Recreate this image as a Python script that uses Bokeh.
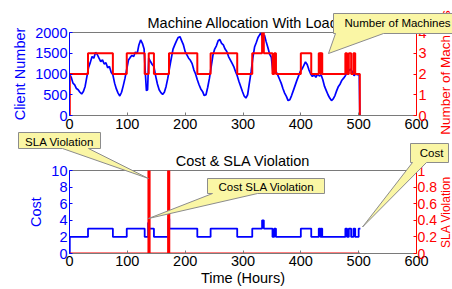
import math
from bokeh.plotting import figure
from bokeh.models import Range1d, LinearAxis, FixedTicker
from bokeh.layouts import column
from bokeh.embed import file_html
from bokeh.resources import INLINE
from bokeh.core.properties import value

# ---------------- data ----------------
client_hours = [
    0, 3, 6, 9, 12, 15, 18, 21, 24, 27,
    30, 33, 36, 39, 42, 45, 48, 51, 54, 57,
    60, 63, 66, 69, 72, 75, 78, 81, 84, 87,
    90, 93, 96, 99, 102, 105, 108, 111, 114, 117,
    120, 123, 126, 129, 131, 133, 135, 137, 140, 143,
    146, 149, 152, 155, 158, 161, 164, 167, 170, 173,
    176, 179, 182, 185, 188, 191, 194, 197, 200, 203,
    206, 209, 212, 215, 218, 221, 224, 227, 230, 233,
    236, 239, 242, 245, 248, 251, 254, 257, 260, 263,
    266, 269, 272, 275, 278, 281, 284, 287, 290, 293,
    296, 299, 302, 305, 308, 311, 314, 317, 320, 323,
    326, 329, 331, 334, 337, 340, 343, 346, 349, 352,
    354, 357, 360, 363, 366, 369, 372, 375, 378, 381,
    384, 387, 390, 393, 396, 399, 402, 405, 408, 411,
    414, 417, 420, 423, 426, 429, 432, 435, 438, 441,
    444, 447, 450, 453, 456, 459, 462, 465, 468, 471,
    474, 477, 480, 483, 486, 489, 492, 495, 498, 501,
    502]
client_counts = [
    1000, 920, 780, 740, 650, 620, 560, 520, 580, 700,
    930, 1160, 1280, 1420, 1380, 1520, 1470, 1380, 1300, 1340,
    1240, 1270, 1150, 1180, 1040, 980, 780, 640, 540, 470,
    560, 720, 900, 1120, 1340, 1400, 1450, 1420, 1530, 1490,
    1700, 1820, 1740, 1600, 1050, 600, 620, 1380, 1300, 1230,
    1180, 950, 760, 620, 550, 510, 560, 700, 900, 1150,
    1380, 1600, 1700, 1800, 1880, 1900, 1800, 1700, 1540, 1460,
    1380, 1330, 1250, 1100, 1000, 860, 740, 640, 580, 480,
    500, 680, 900, 1180, 1450, 1600, 1680, 1800, 1830, 1740,
    1700, 1600, 1540, 1420, 1340, 1260, 1180, 1060, 960, 820,
    700, 580, 470, 420, 500, 780, 1050, 1380, 1650, 1760,
    1880, 1950, 1990, 1860, 1940, 1780, 1640, 1480, 1400, 1000,
    1150, 1060, 980, 880, 780, 650, 540, 460, 360, 380,
    480, 600, 720, 840, 950, 1060, 1120, 1200, 1290, 1230,
    1100, 1000, 940, 980, 920, 1000, 950, 980, 860, 700,
    600, 500, 420, 360, 400, 480, 600, 700, 760, 850,
    900, 960, 1040, 1080, 1120, 1050, 960, 1000, 980, 1000,
    0]

machine_hours = [0, 0.5, 32, 75, 99, 130, 137, 146, 172, 221, 244, 290, 316, 333, 336,
                 351, 354, 357, 400, 418, 431, 434, 435, 437, 477, 480, 483, 487, 491,
                 494, 502, 503]
machine_counts = [0, 2, 3, 2, 3, 2, 3, 2, 3, 2, 3, 2, 3, 4, 3,
                  2, 3, 2, 3, 2, 3, 2, 3, 2, 3, 2, 3, 2, 3,
                  2, 0, 0]

cost_hours = [0, 0.5, 32, 75, 99, 130, 136, 137.5, 146, 171, 172.5, 221, 244, 290, 316,
              333, 336, 351, 354, 357, 400, 418, 431, 434, 435, 437, 477, 480, 483,
              487, 491, 494, 500, 503]
cost_values = [0, 2, 3, 2, 3, 2, 3.7, 3, 2, 4.2, 3, 2, 3, 2, 3,
               4, 3, 2, 3, 2, 3, 2, 3, 2, 3, 2, 3, 2, 3,
               2, 3, 2, 3, 3]

sla_hours = [0, 136.5, 138.5, 170.5, 172.5, 502]
sla_values = [0, 1, 0, 1, 0, 0]

x_ticks = [0, 100, 200, 300, 400, 500, 600]
client_ticks = [0, 500, 1000, 1500, 2000]
machine_ticks = [0, 1, 2, 3, 4]
cost_ticks = [0, 2, 4, 6, 8, 10]
sla_ticks = [0, 0.2, 0.4, 0.6, 0.8, 1]
sla_tick_labels = ["0", "0.2", "0.4", "0.6", "0.8", "1"]

# ---------------- styling / layout (canvas pixels) ----------------
FONT = "Liberation Sans"
FS = "14.5px"
CFS = "11.5px"
BLUE = "#0000FF"
RED = "#FF0000"
GRAY = "#7a7a7a"
CALL_FILL = "#FAF6A5"
CALL_LINE = "#8c8c8c"

W = 452
FL, FR = 69, 416            # x of plot frames
TOP_Y0, TOP_Y1 = 0, 135     # top canvas
T_FT, T_FB = 32, 115        # top frame
BOT_Y0, BOT_Y1 = 135, 289   # bottom canvas
B_FT, B_FB = 170, 253       # bottom frame


def make_fig(y0, y1, ft, fb, yr):
    p = figure(width=W, height=y1 - y0, title=None,
               x_range=Range1d(0, 600), y_range=Range1d(*yr),
               output_backend="svg", toolbar_location=None)
    p.min_border_left = FL
    p.min_border_right = W - FR
    p.min_border_top = ft - y0
    p.min_border_bottom = y1 - fb
    p.grid.visible = False
    p.outline_line_color = GRAY
    p.outline_line_width = 1
    p.border_fill_color = "white"
    p.background_fill_color = "white"
    return p


def style_axis(ax, color, line_color=None, size=FS):
    ax.axis_line_color = line_color or color
    ax.major_tick_line_color = line_color or color
    ax.minor_tick_line_color = None
    ax.major_label_text_color = color
    ax.major_label_text_font = FONT
    ax.major_label_text_font_size = size
    ax.axis_label_text_font = FONT
    ax.axis_label_text_font_style = "normal"
    ax.axis_label_text_font_size = FS
    ax.axis_label_text_color = color


def conv(ft, fb, ymax):
    fx = lambda px: (px - FL) / (FR - FL) * 600.0
    fy = lambda py: (fb - py) / (fb - ft) * ymax
    return fx, fy


def put_text(p, x, y, text, size, color, align, baseline="middle", angle=0.0):
    p.text(x=[x], y=[y], text=[text], angle=angle,
           text_font=value(FONT), text_font_size=value(size), text_color=color,
           text_align=align, text_baseline=baseline, level="annotation")


def callout_shape(p, fx, fy, box, base, tip):
    x0, y0, x1, y1 = box
    b0, b1 = base
    xs = [x0, x1, x1, b1, tip[0], b0, x0]
    ys = [y0, y0, y1, y1, tip[1], y1, y1]
    p.patch([fx(v) for v in xs], [fy(v) for v in ys],
            fill_color=CALL_FILL, fill_alpha=1.0,
            line_color=CALL_LINE, line_width=1, level="annotation")


# ---------------- top chart ----------------
top = make_fig(TOP_Y0, TOP_Y1, T_FT, T_FB, (0, 2000))
top.extra_y_ranges = {"mach": Range1d(0, 4)}
tx_, ty_ = conv(T_FT, T_FB, 2000)

xa = top.xaxis[0]
xa.ticker = FixedTicker(ticks=x_ticks)
style_axis(xa, "black", GRAY)
xa.major_tick_in, xa.major_tick_out = 3, 0
xa.major_label_standoff = 3

ya = top.yaxis[0]
ya.ticker = FixedTicker(ticks=client_ticks)
style_axis(ya, BLUE)
ya.major_tick_in, ya.major_tick_out = 3, 0
ya.major_label_standoff = 2
ya.axis_label = "Client Number"
ya.axis_label_standoff = 4

ra = LinearAxis(y_range_name="mach", ticker=FixedTicker(ticks=machine_ticks))
style_axis(ra, RED)
ra.major_tick_in, ra.major_tick_out = 3, 0
ra.major_label_standoff = 2
top.add_layout(ra, "right")

top.line(client_hours, client_counts, color=BLUE, line_width=1.7)
top.step(machine_hours, machine_counts, mode="after", y_range_name="mach",
         color=RED, line_width=2)

put_text(top, 300, ty_(22), "Machine Allocation With Load", FS, "black", "center", "alphabetic")
put_text(top, tx_(445), ty_(72), "Number of Machines", "13.5px", RED, "center",
         "alphabetic", math.pi / 2)

# callout: Number of Machines
callout_shape(top, tx_, ty_, (333, 13, 480, 33), (335, 383), (328, 53))
put_text(top, tx_(344), ty_(22.5), "Number of Machines", CFS, "black", "left")
# upper part of the SLA Violation callout (it straddles both charts)
callout_shape(top, tx_, ty_, (18, 132, 100, 148), (62, 88), (148, 178))

# ---------------- bottom chart ----------------
bot = make_fig(BOT_Y0, BOT_Y1, B_FT, B_FB, (0, 10))
bot.extra_y_ranges = {"sla": Range1d(0, 1)}
bx_, by_ = conv(B_FT, B_FB, 10)

xb = bot.xaxis[0]
xb.ticker = FixedTicker(ticks=x_ticks)
style_axis(xb, "black", GRAY)
xb.major_tick_in, xb.major_tick_out = 3, 0
xb.major_label_standoff = 2
xb.axis_label = "Time (Hours)"
xb.axis_label_standoff = 1

yb = bot.yaxis[0]
yb.ticker = FixedTicker(ticks=cost_ticks)
style_axis(yb, BLUE)
yb.major_tick_in, yb.major_tick_out = 3, 0
yb.major_label_standoff = 2
yb.axis_label = "Cost"
yb.axis_label_standoff = 4

rb = LinearAxis(y_range_name="sla", ticker=FixedTicker(ticks=sla_ticks),
                major_label_overrides=dict(zip(sla_ticks, sla_tick_labels)))
style_axis(rb, RED, size="14px")
rb.major_tick_in, rb.major_tick_out = 3, 0
rb.major_label_standoff = 1
bot.add_layout(rb, "right")

bot.step(cost_hours, cost_values, mode="after", color=BLUE, line_width=1.8)
bot.step(sla_hours, sla_values, mode="after", y_range_name="sla", color=RED, line_width=2)

put_text(bot, 300, by_(160), "Cost & SLA Violation", FS, "black", "center", "alphabetic")
put_text(bot, bx_(445.5), 5, "SLA Violation", "12px", RED, "center", "alphabetic", math.pi / 2)

callout_shape(bot, bx_, by_, (18, 132, 100, 148), (62, 88), (148, 178))
put_text(bot, bx_(59), by_(141), "SLA Violation", CFS, "black", "center")
callout_shape(bot, bx_, by_, (207, 178, 324, 193), (212, 257), (148, 218))
put_text(bot, bx_(218), by_(186), "Cost SLA Violation", CFS, "black", "left")
callout_shape(bot, bx_, by_, (410, 143, 448, 162), (412, 426), (362, 226.5))
put_text(bot, bx_(431), by_(152.5), "Cost", CFS, "black", "center")

layout = column(top, bot, spacing=0)
open("out.html", "w").write(file_html(layout, INLINE))
